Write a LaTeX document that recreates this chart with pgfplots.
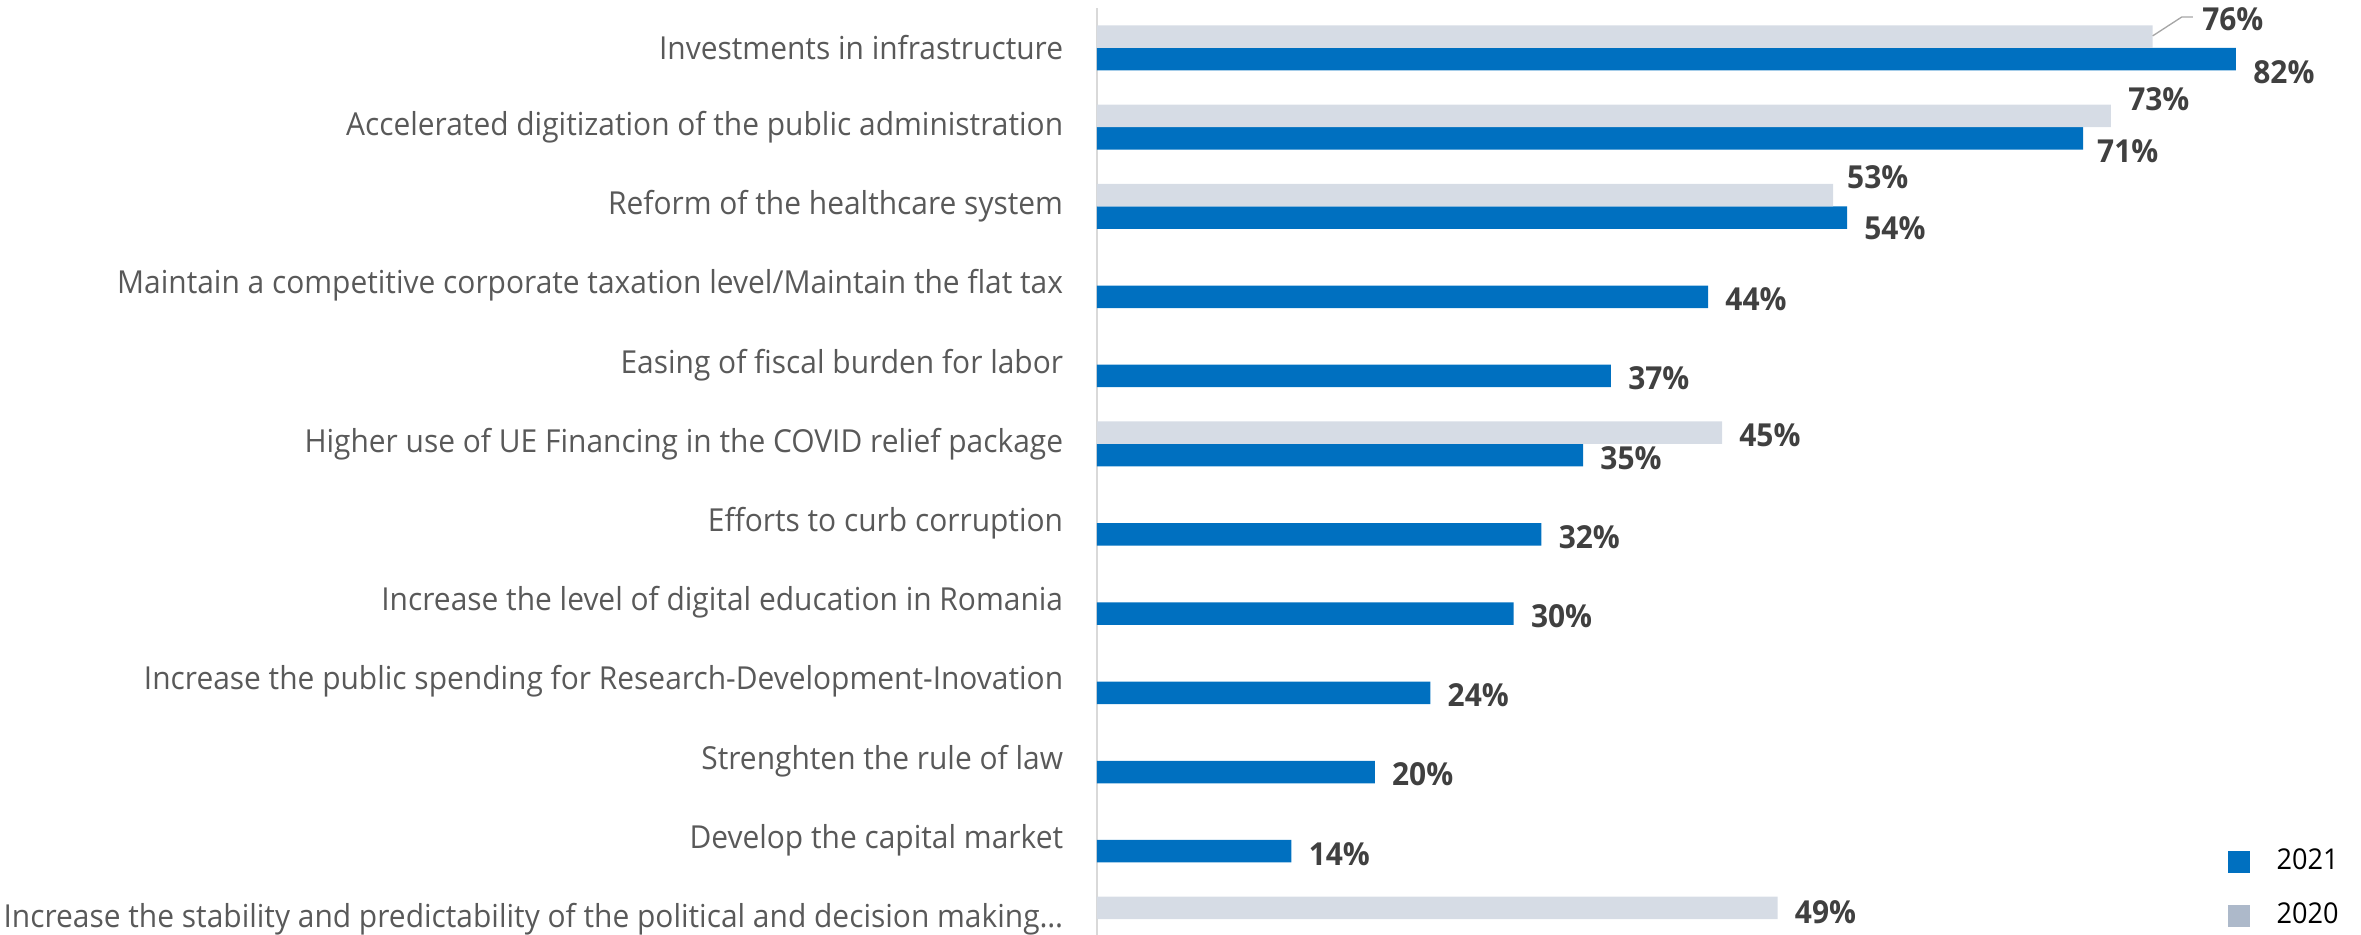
\documentclass[border=0pt]{standalone}
\usepackage{fontspec}
\setmainfont{Open Sans}[FakeStretch=0.945]
\usepackage{pgfplots}
\usepackage{pgfplotstable}
\pgfplotsset{compat=1.18}

\definecolor{blue21}{HTML}{0070C0}
\definecolor{grey20}{HTML}{D6DCE5}
\definecolor{greyleg}{HTML}{ADB9CA}
\definecolor{labtxt}{HTML}{595959}
\definecolor{valtxt}{HTML}{404040}
\definecolor{axisgrey}{HTML}{D9D9D9}
\definecolor{leader}{HTML}{A6A6A6}

% y = category position (1 = top), x = share in %, dy/dx = label nudge in pt
\pgfplotstableread{
y      x   dy     dx
1.142  82  -3.9   5
2.142  71  -3.9   4
3.142  54  -3.3   5
4.142  44  -0.75  5
5.142  37  -0.75  5
6.142  35  -0.75  5
7.142  32  -0.75  5
8.142  30  -0.75  5
9.142  24  -0.75  5
10.142 20  -0.75  5
11.142 14  -0.75  5
}\yeartwentyone

\pgfplotstableread{
y      x   dy     dx
0.858  76   5.25  14.7
1.858  73   5     5
2.858  53   5.5   4
5.858  45  -0.75  5
11.858 49  -1.2   5
}\yeartwenty

\begin{document}
\begin{tikzpicture}
\begin{axis}[
    at={(0,0)}, anchor=south west,
    scale only axis, width=379.2pt, height=278pt,
    xmin=0, xmax=91, ymin=0.5, ymax=12.2, y dir=reverse,
    xbar, bar width=0.284, bar shift=0pt,
    hide x axis, axis y line*=left,
    y axis line style={-, draw=axisgrey, line width=0.6pt},
    ytick={1,...,12},
    yticklabels={
        Investments in infrastructure,
        Accelerated digitization of the public administration,
        Reform of the healthcare system,
        Maintain a competitive corporate taxation level/Maintain the flat tax,
        Easing of fiscal burden for labor,
        Higher use of UE Financing in the COVID relief package,
        Efforts to curb corruption,
        Increase the level of digital education in Romania,
        Increase the public spending for Research-Development-Inovation,
        Strenghten the rule of law,
        Develop the capital market,
        Increase the stability and predictability of the political and decision making…
    },
    ytick style={draw=none},
    yticklabel style={font=\fontsize{9.5}{11}\selectfont, text=labtxt, anchor=east, inner sep=0pt, xshift=-5.7pt},
    /pgf/number format/assume math mode=true,
    point meta=x,
    visualization depends on={\thisrow{dy} \as \lbldy},
    visualization depends on={\thisrow{dx} \as \lbldx},
    nodes near coords={\pgfmathprintnumber{\pgfplotspointmeta}\%},
    every node near coord/.append style={font=\bfseries\fontsize{9.5}{11}\selectfont, text=valtxt, anchor=west, inner sep=0pt, xshift=\lbldx pt, yshift=\lbldy pt},
    legend cell align=left,
    legend style={at={(axis cs:81.4,11.03)}, anchor=north west, draw=none, fill=none, inner sep=0pt, outer sep=0pt,
        font=\fontsize{8.6}{10}\selectfont, row sep=4.4pt,
        /tikz/every odd column/.append style={column sep=6pt}},
]
\addplot[forget plot, draw=none, fill=blue21] table[x=x, y=y] {\yeartwentyone};
\addplot[forget plot, draw=none, fill=grey20] table[x=x, y=y] {\yeartwenty};

\addlegendimage{legend image code/.code={\fill[blue21] (0pt,-3.15pt) rectangle (6.3pt,3.15pt);}}
\addlegendentry{2021}
\addlegendimage{legend image code/.code={\fill[greyleg] (0pt,-3.15pt) rectangle (6.3pt,3.15pt);}}
\addlegendentry{2020}

\draw[leader, line width=0.4pt] (axis cs:76,0.848) -- (axis cs:78.1,0.609) -- (axis cs:78.9,0.609);
\end{axis}
\pgfresetboundingbox
\path[use as bounding box] (-329.1pt,0pt) rectangle (379.2pt,280.5pt);
\end{tikzpicture}
\end{document}
